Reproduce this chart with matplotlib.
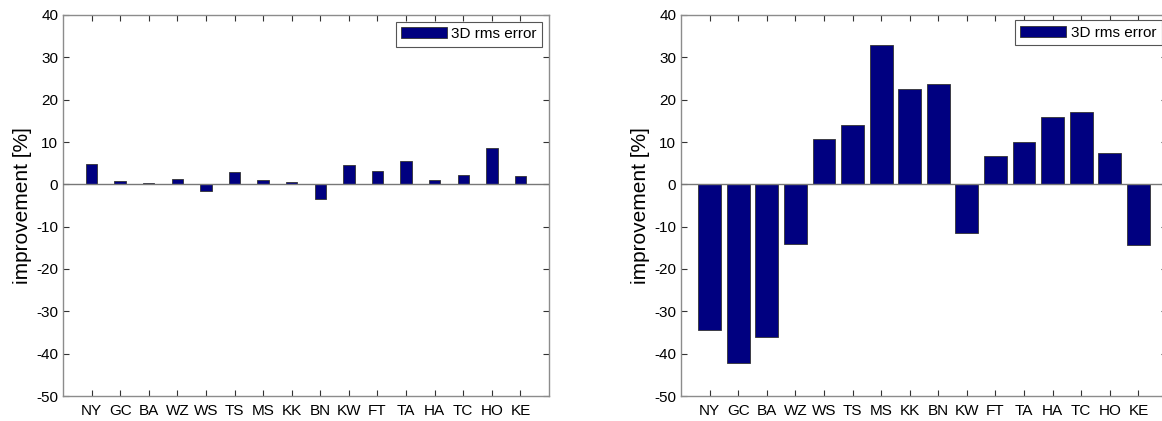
import matplotlib

matplotlib.use("Agg")
import matplotlib.pyplot as plt
import numpy as np

plt.rcParams["font.family"] = ["Liberation Sans", "DejaVu Sans"]
plt.rcParams["axes.unicode_minus"] = False

stations = ["NY", "GC", "BA", "WZ", "WS", "TS", "MS", "KK",
            "BN", "KW", "FT", "TA", "HA", "TC", "HO", "KE"]

# improvement [%] of 3D rms error
left_vals = [4.7, 0.8, 0.3, 1.25, -1.5, 2.9, 0.95, 0.45,
             -3.4, 4.6, 3.2, 5.4, 0.95, 2.3, 8.5, 1.95]
right_vals = [-34.5, -42.1, -36.1, -14.1, 10.8, 14.1, 33.0, 22.5,
              23.6, -11.5, 6.75, 9.9, 16.0, 17.0, 7.5, -14.4]

BAR_COLOR = "#000080"
SPINE_COLOR = "#8c8c8c"

W, H = 1162, 421
fig = plt.figure(figsize=(W / 100, H / 100), dpi=100)

ax_w = (549 - 63) / W
ax_h = (396 - 15) / H
ax_b = 1 - 396 / H
ax_left = fig.add_axes([63 / W, ax_b, ax_w, ax_h])
ax_right = fig.add_axes([681 / W, ax_b, ax_w, ax_h])


def draw_panel(ax, vals, width, leg_pad):
    x = np.arange(1, len(stations) + 1)
    ax.bar(x, vals, width=width, color=BAR_COLOR, edgecolor="#333333",
           linewidth=0.6, label="3D rms error", zorder=2)
    ax.axhline(0, color="#777777", linewidth=1.0, zorder=3)
    ax.set_xlim(0, len(stations) + 1)
    ax.set_ylim(-50, 40)
    ax.set_xticks(x)
    ax.set_xticklabels(stations)
    ax.set_yticks(np.arange(-50, 41, 10))
    ax.tick_params(axis="both", direction="in", top=True, right=True,
                   length=4, width=0.8, color="#333333", labelsize=11)
    ax.tick_params(axis="x", pad=6)
    for s in ax.spines.values():
        s.set_color(SPINE_COLOR)
        s.set_linewidth(1.0)
    ax.set_ylabel("improvement [%]", fontsize=15, labelpad=3)
    leg = ax.legend(loc="upper right", fontsize=11, fancybox=False,
                    framealpha=1, edgecolor="#555555", handlelength=3.0,
                    handleheight=0.75, handletextpad=0.3, borderpad=0.35,
                    borderaxespad=leg_pad)
    leg.get_frame().set_linewidth(0.8)


draw_panel(ax_left, left_vals, 0.4, 0.45)
draw_panel(ax_right, right_vals, 0.8, 0.35)

fig.savefig("out.png", dpi=100)
